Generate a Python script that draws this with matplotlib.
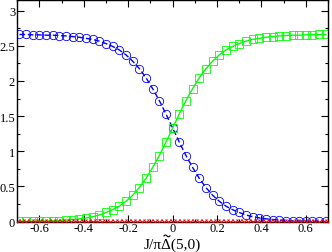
import matplotlib
matplotlib.use("Agg")
import matplotlib.pyplot as plt
from matplotlib.ticker import MultipleLocator
from matplotlib.lines import Line2D
import numpy as np

plt.rcParams['font.family'] = ['Liberation Serif', 'DejaVu Serif']

# data
x_bg = np.round(np.arange(-0.69, 0.70, 0.03), 2)
blue = [2.66, 2.66, 2.655, 2.655, 2.65, 2.65, 2.645, 2.64, 2.63, 2.62, 2.605,
        2.59, 2.565, 2.53, 2.49, 2.44, 2.37, 2.28, 2.175, 2.045, 1.89, 1.72,
        1.53, 1.33,
        1.13, 0.94, 0.77, 0.615, 0.485, 0.375, 0.29, 0.22, 0.17, 0.13, 0.095,
        0.07, 0.053, 0.04, 0.03, 0.022, 0.016, 0.012, 0.009, 0.007, 0.005,
        0.004, 0.003]
green = [0.003, 0.004, 0.005, 0.007, 0.009, 0.012, 0.016, 0.022, 0.03, 0.04,
         0.053, 0.07, 0.095, 0.13, 0.17, 0.22, 0.29, 0.375, 0.485, 0.615,
         0.77, 0.94, 1.13, 1.33,
         1.53, 1.72, 1.89, 2.045, 2.175, 2.28, 2.37, 2.44, 2.49, 2.53, 2.565,
         2.59, 2.605, 2.62, 2.63, 2.64, 2.645, 2.65, 2.65, 2.655, 2.655, 2.66,
         2.66]
x_red = np.round(np.arange(-0.70, 0.705, 0.02), 2)
red = np.zeros(len(x_red))

fig = plt.figure(figsize=(3.32, 2.53), dpi=100)
ax = fig.add_axes([0.052, 0.12, 0.936, 0.876])

ax.plot(x_red, red, color='#400000', lw=1.0, marker='x', ms=4, mec='red',
        mew=0.7, zorder=3)
ax.plot(x_bg, blue, color='blue', lw=1.0, ls=(0, (4, 2)), marker='o', ms=6,
        mfc='none', mec='blue', mew=0.6, zorder=2)
ax.plot(x_bg, green, color='#00ff00', lw=1.0, marker='s', ms=5.5,
        mfc='none', mec='#00ff00', mew=0.6, zorder=2)

ax.set_xlim(-0.7, 0.7)
ax.set_ylim(0, 3.15)
ax.xaxis.set_minor_locator(MultipleLocator(0.1))
ax.yaxis.set_minor_locator(MultipleLocator(0.25))
ax.set_xticks([-0.6, -0.4, -0.2, 0, 0.2, 0.4, 0.6])
ax.set_xticklabels(['-0.6', '-0.4', '-0.2', '0', '0.2', '0.4', '0.6'])
ax.set_yticks([0, 0.5, 1, 1.5, 2, 2.5, 3])
ax.set_yticklabels(['0', '0.5', '1', '1.5', '2', '2.5', '3'])
ax.tick_params(which='both', direction='in', top=True, right=True,
               labelsize=9, width=0.8)
ax.tick_params(axis='x', pad=0.5)
ax.tick_params(axis='y', pad=1.5)
ax.tick_params(which='major', length=5)
ax.tick_params(which='minor', length=2.5)
for s in ax.spines.values():
    s.set_linewidth(1.0)

# x label; the tilde over the Delta is drawn as a small stroke
W, H = 332, 253
base = 3.8
label = fig.text(0.52, base / H, 'J/\u03c0\u0394(5,0)', fontsize=11,
                 ha='center', va='baseline')
fig.canvas.draw()
r = fig.canvas.get_renderer()
bb = label.get_window_extent(r)
pre = fig.text(0, 0, 'J/\u03c0', fontsize=11)
w_pre = pre.get_window_extent(r).width
pre.remove()
dl = fig.text(0, 0, '\u0394', fontsize=11)
w_dl = dl.get_window_extent(r).width
dl.remove()
xc = bb.x0 + w_pre + w_dl / 2
t = np.linspace(0, 2 * np.pi, 20)
tx = xc - 3 + 6 * t / (2 * np.pi)
ty = base + 12.3 + 0.9 * np.sin(t)
fig.add_artist(Line2D(tx / W, ty / H, transform=fig.transFigure,
                      color='black', lw=0.8))

fig.savefig('out.png', dpi=100)
